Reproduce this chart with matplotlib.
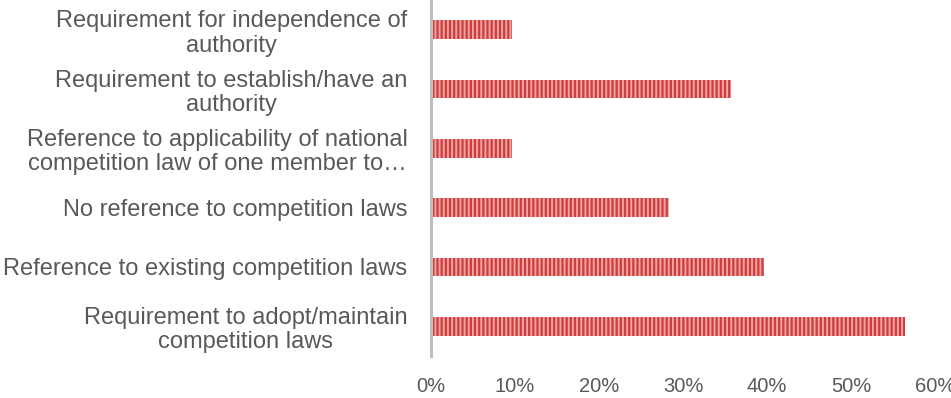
import matplotlib
matplotlib.use("Agg")
import matplotlib.pyplot as plt
from matplotlib.ticker import FuncFormatter

plt.rcParams['font.family'] = ['Liberation Sans', 'DejaVu Sans']
plt.rcParams['hatch.linewidth'] = 1.4

categories = [
    "Requirement to adopt/maintain\ncompetition laws",
    "Reference to existing competition laws",
    "No reference to competition laws",
    "Reference to applicability of national\ncompetition law of one member to\u2026",
    "Requirement to establish/have an\nauthority",
    "Requirement for independence of\nauthority",
]
shares = [0.564, 0.396, 0.283, 0.097, 0.357, 0.097]
x_ticks = [0, 0.1, 0.2, 0.3, 0.4, 0.5, 0.6]

text_color = "#595959"
bar_color = "#D23B3B"
stripe_color = "#EBA5A5"

fig = plt.figure(figsize=(9.51, 3.98), dpi=100)
ax = fig.add_axes([431 / 951, 1 - 356 / 398, (935 - 431) / 951, 356 / 398])

ypos = list(range(len(categories)))
ax.barh(ypos, shares, height=0.31, color=bar_color, edgecolor=stripe_color,
        linewidth=0, hatch="||||")

ax.set_xlim(0, 0.6)
ax.set_ylim(-0.5, len(categories) - 0.5)
ax.set_xticks(x_ticks)
ax.xaxis.set_major_formatter(FuncFormatter(lambda v, _: f"{v * 100:.0f}%"))
ax.set_yticks(ypos)
ax.set_yticklabels(categories, multialignment="center", linespacing=1.15)

ax.tick_params(axis="x", length=0, pad=15, labelsize=14.5, labelcolor=text_color)
ax.tick_params(axis="y", length=0, pad=17, labelsize=17, labelcolor=text_color)

for side in ("top", "right", "bottom"):
    ax.spines[side].set_visible(False)
ax.spines["left"].set_color("#BFBFBF")
ax.spines["left"].set_linewidth(2.2)

fig.savefig("out.png", dpi=100)
